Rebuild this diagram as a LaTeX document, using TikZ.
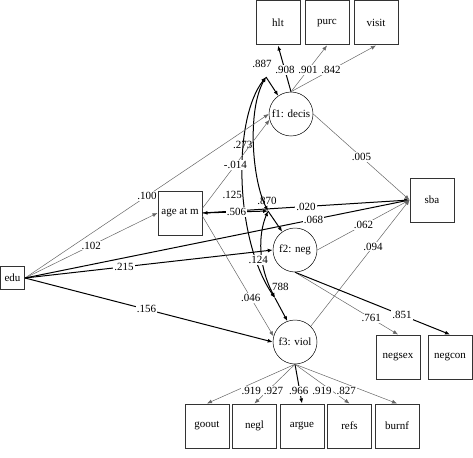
\documentclass[tikz,border=0pt]{standalone}
\usepackage{fontspec}
\setmainfont{Liberation Serif}
\usetikzlibrary{positioning,shapes,arrows.meta}

\begin{document}
\begin{tikzpicture}[x=1pt,y=-1pt,>={Latex[length=5pt,width=4pt]},
    font=\fontsize{11}{13}\selectfont,
    var/.style={draw=black!80,line width=1pt,minimum width=44pt,minimum height=44pt,inner sep=1pt},
    fac/.style={circle,draw,line width=.5pt,minimum size=44pt,inner sep=0pt},
    weak/.style={draw=black!60,line width=.5pt},
    strong/.style={line width=1pt},
    lbl/.style={fill=white,inner sep=1pt}]
    \useasboundingbox (0,0) rectangle (473,457);
    \node[var] (hlt) at (278,23) {hlt};
    \node[var,right=4pt of hlt] (purc) {purc};
    \node[var,right=4pt of purc] (visit) {visit};
    \node[fac] (f1) at (291,114) {f1: decis};
    \node[var] (agem) at (180,213) {age at m};
    \node[var,minimum width=24pt,minimum height=23pt] (edu) at (12.5,278) {edu};
    \node[var] (sba) at (432,200) {sba};
    \node[fac] (f2) at (295,250) {f2: neg};
    \node[fac] (f3) at (295,342) {f3: viol};
    \node[var] (negsex) at (398,357) {negsex};
    \node[var,right=7pt of negsex] (negcon) {negcon};
    \node[var] (goout) at (207,426) {goout};
    \node[var,right=2.5pt of goout] (negl) {negl};
    \node[var,right=2.5pt of negl] (argue) {argue};
    \node[var,right=2.5pt of argue] (refs) {refs};
    \node[var,right=2.5pt of refs] (burnf) {burnf};
    % residuals of the factors
    \coordinate (m1) at (266,77);
    \coordinate (m2) at (268,211);
    \coordinate (m3) at (275,298);
    \node (v1) at (262,64) {.887};
    \node (v2) at (267,201) {.870};
    \node (v3) at (279,287) {.788};
    \draw[->,strong] (m1) -- (f1.125);
    \draw[->,strong] (m2) -- (f2.125);
    \draw[->,strong] (m3) -- (f3.110);
    \draw[<->,strong] (m1) .. controls (247,110) and (252,180) .. node[left,inner sep=1pt] {.273} (m2);
    \draw[<->,strong] (m1) .. controls (232,120) and (235,240) .. node[pos=.55,left,inner sep=1pt] {.125} (m3);
    \draw[<->,strong] (m2) .. controls (258,235) and (258,265) .. node[lbl,pos=.6,xshift=-4pt] {.124} (m3);
    % structural part
    \draw[->,weak] (edu.east) -- node[lbl] {.102} (agem.west);
    \draw[->,weak] (edu.east) -- node[lbl] {.100} (f1.west);
    \draw[->,strong] (edu.east) -- node[lbl,pos=.4] {.215} (f2.west);
    \draw[->,strong] (edu.east) -- node[lbl,pos=.75] {.068} (sba.west);
    \draw[->,strong] (edu.east) -- node[lbl,pos=.49] {.156} (f3.west);
    \draw[->,weak] (agem.12) -- node[lbl,pos=.49] {-.014} (f1.195);
    \draw[->,weak] (agem.-8) -- node[lbl,pos=.68] {.046} (f3.165);
    \draw[->,strong] (agem.east) -- node[lbl] {.020} (sba.west);
    \draw[<->,strong] (agem.east) -- node[lbl,pos=.52] {.506} (m2);
    \draw[->,weak] (f1.east) -- node[lbl] {.005} (sba.west);
    \draw[->,weak] (f2.east) -- node[lbl] {.062} (sba.west);
    \draw[->,weak] (f3.45) -- node[lbl,pos=.63] {.094} (sba.west);
    % loadings
    \draw[->,strong] (f1.north) -- node[lbl,pos=.47] {.908} (hlt.south);
    \draw[->,weak] (f1.north) -- node[lbl,pos=.47] {.901} (purc.south);
    \draw[->,weak] (f1.north) -- node[lbl,pos=.47] {.842} (visit.south);
    \draw[->,weak] (f2.south) -- node[lbl,pos=.74] {.761} (negsex.north);
    \draw[->,strong] (f2.south) -- node[lbl,pos=.69] {.851} (negcon.north);
    \draw[->,weak] (f3.south) -- node[lbl,pos=.68,xshift=16pt] {.919} (goout.north);
    \draw[->,weak] (f3.south) -- node[lbl,pos=.68,xshift=6pt] {.927} (negl.north);
    \draw[->,strong] (f3.south) -- node[lbl,pos=.68,xshift=-1pt] {.966} (argue.north);
    \draw[->,weak] (f3.south) -- node[lbl,pos=.68,xshift=-10pt] {.919} (refs.north);
    \draw[->,weak] (f3.south) -- node[lbl,pos=.68,xshift=-18pt] {.827} (burnf.north);
\end{tikzpicture}
\end{document}
